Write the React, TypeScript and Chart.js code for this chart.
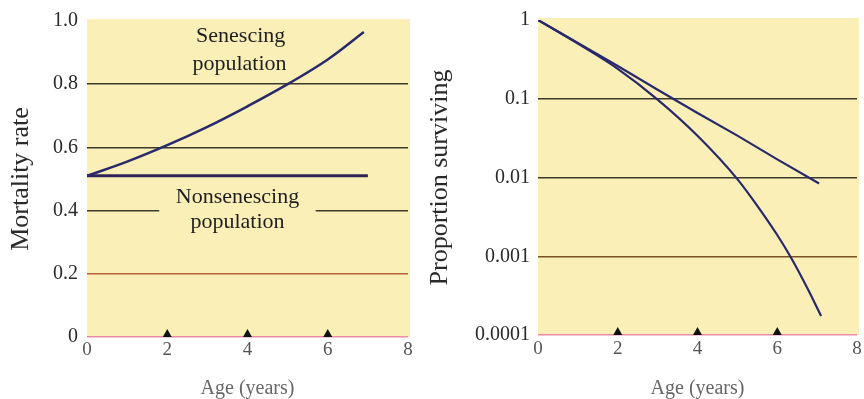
import React, { useEffect, useRef } from 'react';
import { Chart, registerables } from 'chart.js';

Chart.register(...registerables);

// ---------- data ----------
const ageTicks = [0, 2, 4, 6, 8];
const markerAges = [2, 4, 6];

const mortalityAges = [0, 1, 2, 3, 4, 5, 6, 6.9];
const senescingMortality = [0.51, 0.555, 0.607, 0.665, 0.73, 0.8, 0.878, 0.965];
const nonsenescingMortalityAges = [0, 7];
const nonsenescingMortality = [0.51, 0.51];
const mortalityTicks = [0, 0.2, 0.4, 0.6, 0.8, 1.0];
const mortalityTickLabels = ['0', '0.2', '0.4', '0.6', '0.8', '1.0'];

const nonsenescingSurvivalAges = [0, 1, 2, 3, 4, 5, 6, 7.05];
const nonsenescingSurvival = [1, 0.51, 0.26, 0.13, 0.066, 0.034, 0.017, 0.0084];
const senescingSurvivalAges = [0, 1, 2, 3, 4, 5, 5.5, 6, 6.35, 6.75, 7.1];
const senescingSurvival = [1, 0.501, 0.24, 0.0977, 0.0339, 0.00955, 0.00437, 0.00186, 0.00095, 0.000398, 0.000174];
const survivalTicks = [1, 0.1, 0.01, 0.001, 0.0001];
const survivalTickLabels = ['1', '0.1', '0.01', '0.001', '0.0001'];

// ---------- styles ----------
const SERIF = "'Liberation Serif', 'Times New Roman', serif";
const BG = '#fbefb8';
const LINE = '#28296b';
const GRID_DARK = '#3b3a28';
const GRID_RED = '#b4603a';
const GRID_PINK = '#e88ca6';

const pts = (xs: number[], ys: number[]) => xs.map((x, i) => ({ x, y: ys[i] }));

function bgPlugin(id: string) {
  return {
    id,
    beforeDraw(chart: any) {
      const { ctx, chartArea: a } = chart;
      ctx.save();
      ctx.fillStyle = BG;
      ctx.fillRect(a.left, a.top - 2, a.right - a.left + 2, a.bottom - a.top + 2);
      ctx.restore();
    },
    afterDraw(chart: any) {
      const { ctx } = chart;
      const xs = chart.scales.x;
      const ys = chart.scales.y;
      const base = ys.getPixelForValue(ys.min);
      ctx.save();
      ctx.fillStyle = '#111';
      markerAges.forEach((a) => {
        const px = xs.getPixelForValue(a);
        ctx.beginPath();
        ctx.moveTo(px - 4.5, base);
        ctx.lineTo(px + 4.5, base);
        ctx.lineTo(px, base - 8);
        ctx.closePath();
        ctx.fill();
      });
      ctx.restore();
    },
  };
}

const labelPlugin = {
  id: 'mortalityLabels',
  beforeDatasetsDraw(chart: any) {
    const { ctx } = chart;
    const xs = chart.scales.x;
    const ys = chart.scales.y;
    const x0 = xs.getPixelForValue(1.8);
    const x1 = xs.getPixelForValue(5.7);
    const y = ys.getPixelForValue(0.4);
    ctx.save();
    ctx.fillStyle = BG;
    ctx.fillRect(x0, y - 3, x1 - x0, 6);
    ctx.restore();
  },
  afterDraw(chart: any) {
    const { ctx } = chart;
    const xs = chart.scales.x;
    const ys = chart.scales.y;
    ctx.save();
    ctx.fillStyle = '#1e1e1e';
    ctx.font = `22px ${SERIF}`;
    ctx.textAlign = 'center';
    ctx.textBaseline = 'alphabetic';
    ctx.fillText('Senescing', xs.getPixelForValue(3.83), ys.getPixelForValue(0.934));
    ctx.fillText('population', xs.getPixelForValue(3.8), ys.getPixelForValue(0.844));
    ctx.fillText('Nonsenescing', xs.getPixelForValue(3.75), ys.getPixelForValue(0.425));
    ctx.fillText('population', xs.getPixelForValue(3.75), ys.getPixelForValue(0.344));
    ctx.restore();
  },
};

function xAxis(height: number, pad: number) {
  return {
    type: 'linear',
    min: 0,
    max: 8,
    afterBuildTicks: (s: any) => {
      s.ticks = ageTicks.map((v) => ({ value: v }));
    },
    afterFit: (s: any) => {
      s.height = height;
    },
    grid: { display: false },
    border: { display: false },
    ticks: {
      font: { family: SERIF, size: 19 },
      color: '#555',
      padding: pad,
      maxRotation: 0,
      autoSkip: false,
    },
    title: {
      display: true,
      text: 'Age (years)',
      font: { family: SERIF, size: 20, lineHeight: 1 },
      color: '#666',
      padding: { top: 0, bottom: 0 },
    },
  };
}

export default function App() {
  const leftRef = useRef<HTMLCanvasElement>(null);
  const rightRef = useRef<HTMLCanvasElement>(null);

  useEffect(() => {
    const left = new Chart(leftRef.current!, {
      type: 'line',
      data: {
        datasets: [
          {
            label: 'Senescing population',
            data: pts(mortalityAges, senescingMortality),
            borderColor: LINE,
            borderWidth: 2.5,
            pointRadius: 0,
            tension: 0.4,
          },
          {
            label: 'Nonsenescing population',
            data: pts(nonsenescingMortalityAges, nonsenescingMortality),
            borderColor: '#2e2257',
            borderWidth: 3,
            pointRadius: 0,
          },
        ],
      },
      options: {
        responsive: false,
        animation: false,
        layout: { padding: { left: 0, right: 12, top: 17, bottom: 0 } },
        plugins: { legend: { display: false }, tooltip: { enabled: false } },
        scales: {
          x: xAxis(62, -6) as any,
          y: {
            type: 'linear',
            min: 0,
            max: 1,
            afterBuildTicks: (s: any) => {
              s.ticks = mortalityTicks.map((v) => ({ value: v }));
            },
            afterFit: (s: any) => {
              s.width = 87;
            },
            grid: {
              drawTicks: false,
              lineWidth: 1.5,
              color: (c: any) => {
                const v = c.tick ? c.tick.value : 0;
                if (v === 0) return GRID_PINK;
                if (Math.abs(v - 0.2) < 1e-6) return GRID_RED;
                if (v >= 0.99) return 'rgba(0,0,0,0)';
                return GRID_DARK;
              },
            },
            border: { display: false },
            ticks: {
              font: { family: SERIF, size: 20 },
              color: '#2a2a2a',
              padding: 9,
              callback: (v: any) => {
                const i = mortalityTicks.findIndex((t) => Math.abs(t - v) < 1e-6);
                return i >= 0 ? mortalityTickLabels[i] : '';
              },
            },
            title: {
              display: true,
              text: 'Mortality rate',
              font: { family: SERIF, size: 26, lineHeight: 1.2 },
              color: '#2a2a2a',
              padding: { top: 6, bottom: 0 },
            },
          },
        },
      } as any,
      plugins: [bgPlugin('bgLeft'), labelPlugin],
    });

    const right = new Chart(rightRef.current!, {
      type: 'line',
      data: {
        datasets: [
          {
            label: 'Nonsenescing population',
            data: pts(nonsenescingSurvivalAges, nonsenescingSurvival),
            borderColor: LINE,
            borderWidth: 2.2,
            pointRadius: 0,
          },
          {
            label: 'Senescing population',
            data: pts(senescingSurvivalAges, senescingSurvival),
            borderColor: LINE,
            borderWidth: 2.2,
            pointRadius: 0,
            cubicInterpolationMode: 'monotone',
          },
        ],
      },
      options: {
        responsive: false,
        animation: false,
        layout: { padding: { left: 0, right: 7, top: 15, bottom: 0 } },
        plugins: { legend: { display: false }, tooltip: { enabled: false } },
        scales: {
          x: xAxis(64, -5) as any,
          y: {
            type: 'logarithmic',
            min: 0.0001,
            max: 1,
            afterBuildTicks: (s: any) => {
              s.ticks = survivalTicks.map((v) => ({ value: v }));
            },
            afterFit: (s: any) => {
              s.width = 118;
            },
            grid: {
              drawTicks: false,
              lineWidth: 1.5,
              color: (c: any) => {
                const v = c.tick ? c.tick.value : 0;
                if (v <= 0.00011) return GRID_PINK;
                if (v >= 0.99) return 'rgba(0,0,0,0)';
                if (Math.abs(v - 0.001) < 1e-6) return '#7a5226';
                return GRID_DARK;
              },
            },
            border: { display: false },
            ticks: {
              font: { family: SERIF, size: 20 },
              color: '#2a2a2a',
              padding: 8,
              callback: (v: any) => {
                const i = survivalTicks.findIndex((t) => Math.abs(t - v) / t < 1e-6);
                return i >= 0 ? survivalTickLabels[i] : '';
              },
            },
            title: {
              display: true,
              text: 'Proportion surviving',
              font: { family: SERIF, size: 26, lineHeight: 1.2 },
              color: '#2a2a2a',
              padding: { top: 5, bottom: 0 },
            },
          },
        },
      } as any,
      plugins: [bgPlugin('bgRight')],
    });

    return () => {
      left.destroy();
      right.destroy();
    };
  }, []);

  return (
    <div style={{ position: 'fixed', left: 0, top: 0, width: 864, height: 399, background: '#fff' }}>
      <canvas ref={leftRef} width={420} height={399} style={{ position: 'absolute', left: 0, top: 0 }} />
      <canvas ref={rightRef} width={444} height={399} style={{ position: 'absolute', left: 420, top: 0 }} />
    </div>
  );
}
